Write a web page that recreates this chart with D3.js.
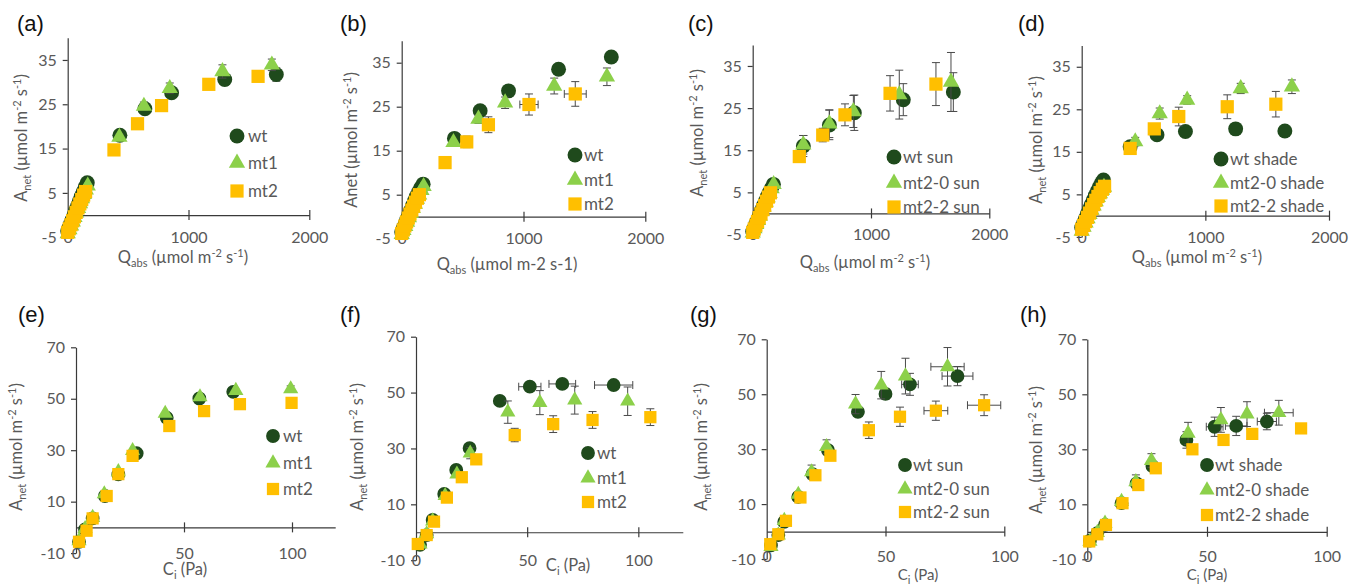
<!DOCTYPE html>
<html lang="en">
<head>
<meta charset="utf-8">
<title>Anet light and CO2 response</title>
<script src="https://cdn.jsdelivr.net/npm/d3@7/dist/d3.min.js"></script>
<style>
  body { margin: 0; background: #fff; }
  svg text { font-family: Lato, "Open Sans", sans-serif; }
  .tick text { fill: #595959; font-size: 16px; }
  .axis path, .axis line { stroke: #3a3a3a; stroke-width: 1.2; }
  .ttl { fill: #595959; font-size: 16.5px; }
  .leg { fill: #595959; font-size: 17px; }
  .plab { fill: #111; font-size: 22px; font-family: "Liberation Sans", Arial, sans-serif; }
</style>
</head>
<body>
<script>
// ---- data: [x, y, xErr, yErr] ----
// light response (Qabs, Anet)
const aWt  = [[0,-3.6],[12,-2.8],[25,-1.9],[38,-1.0],[52,0.0],[66,1.0],[80,2.0],[96,3.1],[112,4.2],[128,5.2],[145,6.3],[162,7.3],[432,18.0,0,0.6],[639,24.0,0,0.8],[860,27.6,0,0.8],[1300,30.6,0,1.3],[1727,31.7,0,1.5]]
const aMt1 = [[0,-4.2],[14,-3.3],[28,-2.4],[42,-1.5],[56,-0.5],[70,0.5],[86,1.5],[102,2.6],[118,3.7],[134,4.7],[150,5.7],[166,6.6],[428,17.6,0,0.7],[631,24.6,0,0.9],[845,28.6,0,1.2],[1281,32.4,0,1.5],[1690,33.9,0,1.3]]
const aMt2 = [[0,-3.9],[13,-3.1],[27,-2.2],[41,-1.3],[55,-0.4],[70,0.6],[85,1.6],[100,2.5],[116,3.5],[132,4.5],[148,5.3],[383,14.7],[578,20.6],[777,24.7],[1168,29.5],[1576,31.3]]

const bWt  = [[0,-3.5],[13,-2.6],[27,-1.7],[41,-0.7],[56,0.3],[71,1.3],[87,2.4],[103,3.5],[120,4.6],[138,5.6],[157,6.6],[176,7.4],[433,17.8],[644,24.1],[877,28.6],[1288,33.5,0,0.8],[1721,36.3,0,1.2]]
const bMt1 = [[0,-4.0],[14,-3.1],[29,-2.2],[44,-1.2],[59,-0.2],[75,0.8],[91,1.9],[108,2.9],[125,4.0],[143,5.0],[162,6.0],[180,6.9],[425,16.9],[630,22.2,0,1.0],[849,25.9,0,1.3],[1252,29.7,0,1.8],[1685,31.8,0,2.0]]
const bMt2 = [[0,-3.8],[13,-3.0],[26,-2.1],[40,-1.2],[54,-0.3],[68,0.6],[83,1.5],[98,2.4],[113,3.3],[129,4.2],[145,5.0],[356,12.3],[534,17.0,0,1.3],[712,20.9,0,1.8],[1045,25.5,75,2.4],[1425,27.9,90,2.8]]

const cWt  = [[0,-4.3],[14,-3.4],[28,-2.4],[43,-1.4],[58,-0.4],[74,0.7],[90,1.8],[107,2.9],[124,4.0],[141,5.0],[158,6.0],[175,6.9],[428,16.0,0,2.5],[648,21.0,0,3.5],[859,23.9,0,4.2],[1273,27.0,0,3.8],[1696,28.8,0,4.6]]
const cMt20 = [[0,-4.6],[15,-3.6],[30,-2.6],[45,-1.6],[60,-0.6],[76,0.5],[92,1.6],[109,2.7],[126,3.8],[143,4.8],[160,5.9],[177,6.9],[428,16.3,0,2.2],[648,21.3,0,3.3],[851,24.2,0,3.8],[1239,28.2,0,5.8],[1676,31.2,0,7.0]]
const cMt22 = [[0,-4.5],[13,-3.7],[27,-2.8],[41,-1.9],[55,-1.0],[70,-0.1],[85,0.9],[101,1.9],[117,2.9],[133,3.9],[150,4.9],[394,13.5],[592,18.6,0,1.6],[780,23.4,0,2.6],[1161,28.5,0,4.2],[1549,30.7,0,5.1]]

const dWt  = [[0,-2.8],[14,-1.8],[29,-0.8],[44,0.3],[60,1.4],[76,2.5],[93,3.6],[110,4.7],[127,5.8],[144,6.8],[161,7.7],[176,8.4],[392,16.2],[609,19.0],[839,19.8],[1245,20.4],[1643,19.9]]
const dMt20 = [[0,-3.6],[15,-2.7],[31,-1.7],[47,-0.7],[63,0.3],[79,1.3],[96,2.3],[113,3.3],[130,4.3],[147,5.2],[164,6.0],[180,6.7],[433,17.4,0,1.0],[631,24.0,0,1.3],[853,27.2,0,1.0],[1286,29.9,0,1.2],[1700,30.3,0,1.6]]
const dMt22 = [[0,-3.2],[15,-2.3],[31,-1.4],[47,-0.4],[63,0.6],[80,1.6],[97,2.6],[114,3.6],[131,4.5],[149,5.4],[167,6.2],[185,6.9],[392,15.8],[587,20.4],[785,23.3,0,2.2],[1177,25.6,0,2.8],[1570,26.2,0,3.0]]

// CO2 response (Ci, Anet)
const eWt  = [[1.4,-5.6],[4.2,-0.8],[7.7,3.5],[13.4,12.2],[19.6,20.6],[28.1,28.8],[42.0,42.6],[57.1,50.1],[72.8,52.7]]
const eMt1 = [[1.4,-5.2],[4.2,-0.5],[7.7,3.8],[13.1,13.0],[19.6,21.6],[26.2,29.8],[41.3,44.3],[57.4,50.7],[74.0,53.2],[99.4,53.8,0,1.2]]
const eMt2 = [[1.4,-5.6],[4.9,-1.3],[7.7,3.5],[14.2,12.2],[19.6,20.7],[26.2,27.8],[43.2,39.4],[59.3,45.2],[75.9,47.9],[99.8,48.4]]

const fWt  = [[1.8,-4.5],[4.8,-1.0],[7.5,4.4],[12.7,13.7],[18.1,22.3],[24.1,30.1],[37.7,47.0],[51.2,52.1,5,0],[65.8,53.1,6,0],[88.9,52.7,8.6,0]]
const fMt1 = [[1.8,-4.2],[4.8,-0.6],[7.5,4.0],[13.1,13.1],[18.4,20.8],[24.4,28.3,0,2],[41.3,43.0,0,4],[55.7,46.4,0,4.3],[71.4,47.3,0,5],[95.2,46.9,0,5.1]]
const fMt2 = [[0.8,-4.2],[4.8,-1.0],[8.1,3.8],[13.9,12.4],[20.6,19.7],[27.1,26.1],[44.4,34.8,0,2.4],[61.7,38.7,0,3],[79.4,40.2,0,3],[105.4,41.2,0,3]]

const gWt  = [[1.8,-5.0],[4.9,-1.3],[7.4,3.5],[13.3,12.6],[19.3,20.9],[25.8,29.6],[38.4,43.6],[50.0,50.1,0,2],[60.3,53.6,3.5,4],[80.3,56.6,6.5,3.5]]
const gMt20 = [[1.8,-5.5],[4.9,-1.3],[7.4,4.0],[13.3,13.5],[18.9,21.7,0,2.5],[25.2,30.9,0,2.5],[37.4,46.4,0,3.5],[48.2,53.3,0,5],[58.4,56.6,0,6.5],[76.1,60.0,7,7]]
const gMt22 = [[1.5,-4.6],[4.9,-1.0],[8.1,3.9],[14.2,12.4],[20.5,20.5],[26.8,27.6],[43.0,36.9,0,3],[56.1,41.8,0,3.5],[71.2,44.0,5,3.5],[91.5,46.0,7,3.8]]

const hWt  = [[1.1,-3.2],[4.2,-0.5],[7.4,2.5],[14.3,10.4],[20.6,17.6],[27.2,23.9],[41.4,33.4,0,3],[53.2,38.2,3.5,3.5],[62.2,38.5,4.5,3.5],[75.0,40.1,4,3]]
const hMt20 = [[1.1,-3.5],[4.2,-0.3],[7.4,3.1],[14.3,11.0],[20.3,18.2,0,2.5],[26.8,25.9,0,2.5],[42.1,35.8,0,4],[55.8,40.7,0,4.5],[66.7,42.8,0,4.5],[80.0,43.3,6,4.5]]
const hMt22 = [[0.8,-3.5],[4.2,-0.9],[7.8,2.5],[14.7,10.4],[21.3,17.0],[28.6,23.1],[43.9,30.0],[56.9,33.4],[68.9,35.6],[89.3,37.6]]

const namesMt   = ["wt", "mt1", "mt2"]
const namesSun  = ["wt sun", "mt2-0 sun", "mt2-2 sun"]
const namesShade = ["wt shade", "mt2-0 shade", "mt2-2 shade"]

const qTicks = [0, 1000, 2000]
const qYTicks = [-5, 5, 15, 25, 35]
const ciTicks = [0, 50, 100]
const ciYTicks = [-10, 10, 30, 50, 70]

const colors = ["#1f4a1c", "#8cd04a", "#ffbf00"]
const shapes = [d3.symbolCircle, d3.symbolTriangle, d3.symbolSquare]

// plain numbers, hyphen minus, no thousands comma
let fmt = d => String(d)

let svg = d3.select("body").append("svg")
  .attr("width", 1359)
  .attr("height", 585)

// write text made of normal / sub / sup pieces
function richText(t, parts) {
  let off = 0
  parts.forEach(([s, m]) => {
    let target = m === 1 ? 4 : m === 2 ? -6 : 0
    t.append("tspan")
      .attr("dy", target - off)
      .style("font-size", m ? "11px" : null)
      .text(s)
    off = target
  })
}

const qTitle = [["Q", 0], ["abs", 1], [" (\u00b5mol m", 0], ["-2", 2], [" s", 0], ["-1", 2], [")", 0]]
const qTitleB = [["Q", 0], ["abs", 1], [" (\u00b5mol m-2 s-1)", 0]]
const aTitle = [["A", 0], ["net", 1], [" (\u00b5mol m", 0], ["-2", 2], [" s", 0], ["-1", 2], [")", 0]]
const aTitleB = [["Anet (\u00b5mol m", 0], ["-2", 2], [" s", 0], ["-1", 2], [")", 0]]
const ciTitle = [["C", 0], ["i", 1], [" (Pa)", 0]]

let panels = [
  {lab: "(a)", lx: 17, ly: 31, series: [aWt, aMt1, aMt2], names: namesMt, xDom: [0, 2000], yDom: [-5, 40],
   x0: 67.7, x1: 309.3, yb: 237.2, yt: 37.8, xt: qTicks, yt2: qYTicks, sz: [175, 115, 175],
   xTitle: qTitle, xtx: 183, xty: 263, yTitle: aTitle, ytx: 27, yty: 138,
   legX: 237, legTx: 248, legY: [136, 163, 191]},
  {lab: "(b)", lx: 340, ly: 31, series: [bWt, bMt1, bMt2], names: namesMt, xDom: [0, 2000], yDom: [-5, 40],
   x0: 401.7, x1: 645.3, yb: 238.7, yt: 40.7, xt: qTicks, yt2: qYTicks, sz: [175, 115, 175],
   xTitle: qTitleB, xtx: 507, xty: 270, yTitle: aTitleB, ytx: 357, yty: 140,
   legX: 575, legTx: 584, legY: [155, 180, 204]},
  {lab: "(c)", lx: 688, ly: 31, series: [cWt, cMt20, cMt22], names: namesSun, xDom: [0, 2000], yDom: [-5, 40],
   x0: 752.7, x1: 989.3, yb: 234.5, yt: 44.9, xt: qTicks, yt2: qYTicks, sz: [175, 115, 175],
   xTitle: qTitle, xtx: 865, xty: 268, yTitle: aTitle, ytx: 703, yty: 133,
   legX: 894, legTx: 903, legY: [157, 183, 207]},
  {lab: "(d)", lx: 1018, ly: 31, series: [dWt, dMt20, dMt22], names: namesShade, xDom: [0, 2000], yDom: [-5, 40],
   x0: 1081.7, x1: 1329, yb: 236.9, yt: 45.5, xt: qTicks, yt2: qYTicks, sz: [175, 115, 175],
   xTitle: qTitle, xtx: 1197, xty: 263, yTitle: aTitle, ytx: 1042, yty: 140,
   legX: 1221, legTx: 1230, legY: [159, 183, 206]},
  {lab: "(e)", lx: 18, ly: 322, series: [eWt, eMt1, eMt2], names: namesMt, xDom: [0, 120], yDom: [-10, 70],
   x0: 76, x1: 335.2, yb: 553.1, yt: 347.3, xt: ciTicks, yt2: ciYTicks, sz: [150, 100, 150],
   xTitle: ciTitle, xtx: 185, xty: 575, yTitle: aTitle, ytx: 22, yty: 447,
   legX: 273, legTx: 283, legY: [436, 463, 489]},
  {lab: "(f)", lx: 340, ly: 322, series: [fWt, fMt1, fMt2], names: namesMt, xDom: [0, 120], yDom: [-10, 70],
   x0: 416, x1: 682.8, yb: 560.2, yt: 336.7, xt: ciTicks, yt2: ciYTicks, sz: [150, 100, 150],
   xTitle: ciTitle, xtx: 568, xty: 571, yTitle: aTitle, ytx: 363, yty: 447,
   legX: 588, legTx: 597, legY: [453, 478, 502]},
  {lab: "(g)", lx: 690, ly: 322, series: [gWt, gMt20, gMt22], names: namesSun, xDom: [0, 100], yDom: [-10, 70],
   x0: 766.7, x1: 1004.3, yb: 559, yt: 339.3, xt: ciTicks, yt2: ciYTicks, sz: [150, 100, 150],
   lbY: 556, xTitle: ciTitle, xtx: 918, xty: 580, tfs: 15, yTitle: aTitle, ytx: 707, yty: 447,
   legX: 905, legTx: 913, legY: [465, 489, 512]},
  {lab: "(h)", lx: 1020, ly: 322, series: [hWt, hMt20, hMt22], names: namesShade, xDom: [0, 100], yDom: [-10, 70],
   x0: 1087.3, x1: 1326.7, yb: 559.3, yt: 339.3, xt: ciTicks, yt2: ciYTicks, sz: [150, 100, 150],
   lbY: 556, xTitle: ciTitle, xtx: 1207, xty: 580, tfs: 15, yTitle: aTitle, ytx: 1042, yty: 450,
   legX: 1207, legTx: 1215, legY: [465, 490, 515]}
]

function drawPanel(p) {
  let g = svg.append("g")
  let xScale = d3.scaleLinear().domain(p.xDom).range([p.x0, p.x1])
  let yScale = d3.scaleLinear().domain(p.yDom).range([p.yb, p.yt])

  g.append("text").attr("class", "plab").attr("x", p.lx).attr("y", p.ly).text(p.lab)

  // y axis
  g.append("g")
    .attr("class", "axis")
    .attr("transform", "translate(" + p.x0 + ",0)")
    .call(d3.axisLeft(yScale).tickValues(p.yt2).tickFormat(fmt).tickSize(5).tickPadding(6).tickSizeOuter(0))

  // x axis line sits at y = 0, ticks cross it
  g.append("g")
    .attr("class", "axis")
    .attr("transform", "translate(0," + yScale(0) + ")")
    .call(d3.axisBottom(xScale).tickValues(p.xt.slice(1)).tickSize(5).tickSizeOuter(0).tickFormat(""))
    .call(a => a.selectAll(".tick line").attr("y1", -5))

  // x tick labels are placed low, at the bottom of the plot
  g.append("g")
    .attr("transform", "translate(0," + (p.lbY || p.yb) + ")")
    .call(d3.axisBottom(xScale).tickValues(p.xt).tickFormat(fmt).tickSize(0).tickPadding(0))
    .call(a => a.select(".domain").remove())
    .call(a => a.selectAll("text").attr("y", 0).attr("dy", "0.35em"))

  richText(g.append("text").attr("class", "ttl").attr("text-anchor", "middle")
    .style("font-size", p.tfs ? p.tfs + "px" : null)
    .attr("x", p.xtx).attr("y", p.xty), p.xTitle)
  richText(g.append("text").attr("class", "ttl").attr("text-anchor", "middle")
    .attr("transform", "translate(" + p.ytx + "," + p.yty + ") rotate(-90)").attr("dy", 5), p.yTitle)

  p.series.forEach((data, i) => {
    let s = g.append("g")
    let errs = data.filter(d => d[2] || d[3])
    errs.filter(d => d[3]).forEach(d => {
      let x = xScale(d[0]), lo = yScale(d[1] - d[3]), hi = yScale(d[1] + d[3])
      s.append("path").attr("d", `M${x},${lo}V${hi}M${x - 4},${lo}H${x + 4}M${x - 4},${hi}H${x + 4}`)
        .attr("stroke", "#4a4a4a").attr("fill", "none")
    })
    errs.filter(d => d[2]).forEach(d => {
      let y = yScale(d[1]), lo = xScale(d[0] - d[2]), hi = xScale(d[0] + d[2])
      s.append("path").attr("d", `M${lo},${y}H${hi}M${lo},${y - 4}V${y + 4}M${hi},${y - 4}V${y + 4}`)
        .attr("stroke", "#4a4a4a").attr("fill", "none")
    })
    s.selectAll(".pt")
      .data(data)
      .enter()
      .append("path")
      .attr("transform", d => "translate(" + xScale(d[0]) + "," + yScale(d[1]) + ")")
      .attr("d", d3.symbol(shapes[i], p.sz[i]))
      .attr("fill", colors[i])

    // legend
    g.append("path")
      .attr("transform", "translate(" + p.legX + "," + p.legY[i] + ")")
      .attr("d", d3.symbol(shapes[i], p.sz[i]))
      .attr("fill", colors[i])
    g.append("text").attr("class", "leg")
      .attr("x", p.legTx).attr("y", p.legY[i]).attr("dy", "0.35em")
      .text(p.names[i])
  })
}

panels.forEach(drawPanel)
</script>
</body>
</html>
